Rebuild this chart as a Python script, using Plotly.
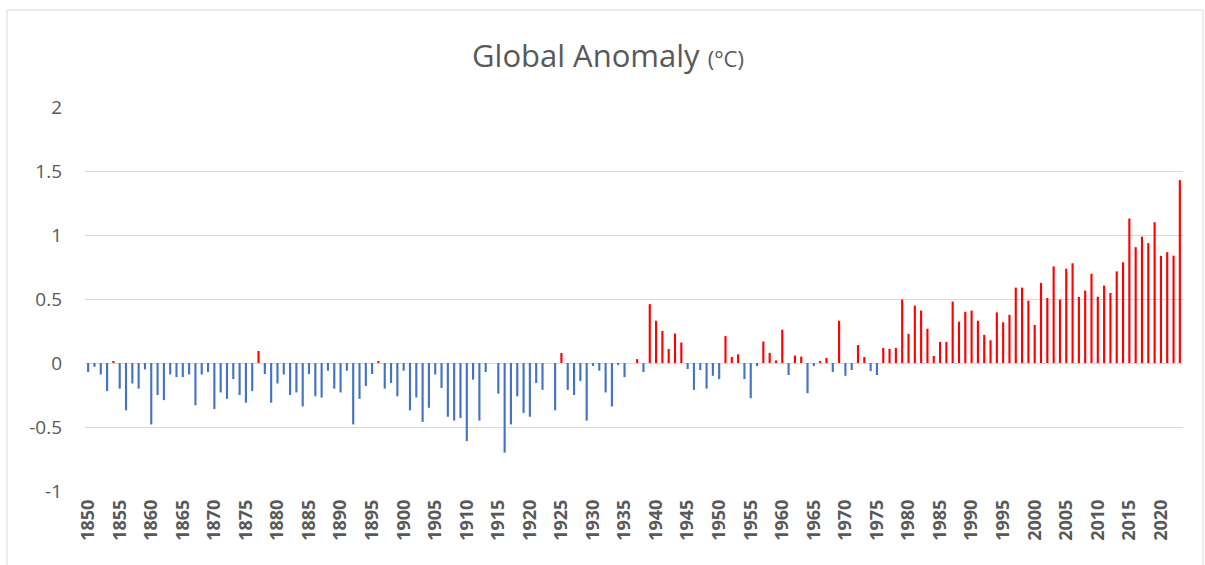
import plotly.graph_objects as go

start_year = 1850
anomaly = [
    # 1850-1859
    -0.07, -0.03, -0.09, -0.22, 0.01, -0.20, -0.37, -0.16, -0.20, -0.05,
    # 1860-1869
    -0.48, -0.25, -0.29, -0.09, -0.11, -0.11, -0.09, -0.33, -0.09, -0.07,
    # 1870-1879
    -0.36, -0.23, -0.28, -0.125, -0.25, -0.31, -0.22, 0.094, -0.086, -0.31,
    # 1880-1889
    -0.16, -0.09, -0.25, -0.23, -0.34, -0.086, -0.26, -0.27, -0.06, -0.20,
    # 1890-1899
    -0.23, -0.06, -0.48, -0.28, -0.18, -0.086, 0.01, -0.20, -0.156, -0.26,
    # 1900-1909
    -0.06, -0.37, -0.27, -0.46, -0.35, -0.09, -0.195, -0.42, -0.45, -0.43,
    # 1910-1919
    -0.61, -0.13, -0.45, -0.07, 0.0, -0.24, -0.70, -0.48, -0.26, -0.39,
    # 1920-1929
    -0.42, -0.156, -0.21, 0.0, -0.37, 0.078, -0.21, -0.25, -0.14, -0.45,
    # 1930-1939
    -0.023, -0.06, -0.23, -0.34, -0.016, -0.11, 0.0, 0.03, -0.07, 0.46,
    # 1940-1949
    0.33, 0.25, 0.11, 0.23, 0.16, -0.047, -0.21, -0.055, -0.20, -0.10,
    # 1950-1959
    -0.126, 0.21, 0.047, 0.068, -0.126, -0.275, -0.024, 0.168, 0.079, 0.02,
    # 1960-1969
    0.26, -0.094, 0.058, 0.05, -0.236, -0.024, 0.008, 0.04, -0.07, 0.33,
    # 1970-1979
    -0.10, -0.055, 0.14, 0.047, -0.063, -0.094, 0.118, 0.11, 0.118, 0.496,
    # 1980-1989
    0.228, 0.449, 0.41, 0.268, 0.055, 0.165, 0.165, 0.48, 0.323, 0.40,
    # 1990-1999
    0.41, 0.33, 0.22, 0.178, 0.395, 0.318, 0.376, 0.589, 0.589, 0.487,
    # 2000-2009
    0.297, 0.626, 0.508, 0.755, 0.495, 0.737, 0.779, 0.516, 0.566, 0.697,
    # 2010-2019
    0.518, 0.605, 0.547, 0.716, 0.787, 1.129, 0.905, 0.987, 0.937, 1.10,
    # 2020-2023
    0.837, 0.866, 0.839, 1.429,
]
years = [start_year + i for i in range(len(anomaly))]
tick_years = list(range(1850, 2021, 5))
y_ticks = [-1, -0.5, 0, 0.5, 1, 1.5, 2]
y_tick_labels = ["-1", "-0.5", "0", "0.5", "1", "1.5", "2"]

colors = ["#FF0000" if v > 0 else "#4472C4" for v in anomaly]

fig = go.Figure()
fig.add_trace(go.Bar(
    x=years, y=anomaly, width=0.34,
    marker=dict(color=colors, line=dict(width=0)),
    hovertemplate="%{x}: %{y}<extra></extra>",
))

L, R, T, B = 85, 22, 107, 74
W, H = 1205, 565
pw, ph = W - L - R, H - T - B

def px_x(px):
    return (px - L) / pw

def px_y(py):
    return (H - B - py) / ph

FONT = "Open Sans, Segoe UI, sans-serif"

fig.update_layout(
    width=W, height=H,
    margin=dict(l=L, r=R, t=T, b=B),
    paper_bgcolor="white", plot_bgcolor="white",
    showlegend=False,
    title=dict(
        text="Global Anomaly <span style='font-size:22px'>(°C)</span>",
        x=608 / W, xref="container", xanchor="center",
        y=(H - 56) / H, yref="container", yanchor="middle",
        font=dict(family=FONT, size=31, color="#595959"),
    ),
    font=dict(family=FONT, color="#595959"),
    xaxis=dict(
        range=[start_year - 0.5, years[-1] + 0.5],
        tickmode="array", tickvals=tick_years,
        ticktext=[f"<b>{y}</b>" for y in tick_years],
        tickangle=-90, tickfont=dict(family=FONT, size=18, color="#595959"),
        showgrid=False, zeroline=False, showline=False, ticks="",
        ticklabelstandoff=4,
    ),
    yaxis=dict(
        range=[-1, 2], tickmode="array", tickvals=y_ticks, ticktext=y_tick_labels,
        tickfont=dict(family=FONT, size=19, color="#595959"),
        showgrid=True, gridcolor="#D9D9D9", gridwidth=1,
        zeroline=True, zerolinecolor="#D9D9D9", zerolinewidth=1,
        showline=False, ticks="", ticklabelstandoff=22,
    ),
    shapes=[dict(
        type="rect", xref="paper", yref="paper",
        x0=px_x(7), x1=px_x(1203), y0=px_y(575), y1=px_y(10),
        line=dict(color="#D9D9D9", width=1), fillcolor="rgba(0,0,0,0)", layer="below",
    )],
)

fig.write_html(
    "out.html",
    config={"displayModeBar": False},
    post_script="document.body.style.margin='0';document.body.style.overflow='hidden';",
)
